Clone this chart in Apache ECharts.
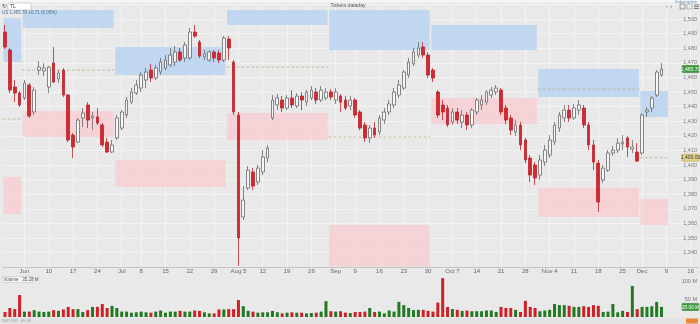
<!DOCTYPE html>
<html><head><meta charset="utf-8">
<script src="https://cdn.jsdelivr.net/npm/echarts@6/dist/echarts.min.js"></script>
<style>html,body{margin:0;padding:0;background:#e9e9e9}#c{width:700px;height:324px}</style>
</head><body><div id="c"></div>
<script>
// ---------- DATA ----------
const firstDay = '2013-05-28';
const lastAxisDay = '2013-12-17';
const holidays = ['2013-07-04', '2013-09-02', '2013-11-28'];

const tickDates = ['2013-06-03','2013-06-10','2013-06-17','2013-06-24','2013-07-01','2013-07-08','2013-07-15','2013-07-22','2013-07-29','2013-08-05','2013-08-12','2013-08-19','2013-08-26','2013-09-03','2013-09-09','2013-09-16','2013-09-23','2013-09-30','2013-10-07','2013-10-14','2013-10-21','2013-10-28','2013-11-04','2013-11-11','2013-11-18','2013-11-25','2013-12-02','2013-12-09','2013-12-16'];
const tickLabels = ['Jun','10','17','24','Jul','8','15','22','29','Aug 5','12','19','26','Sep','9','16','23','30','Oct 7','14','21','28','Nov 4','11','18','25','Dec','9','16'];

// [open, close, low, high]
const ohlc = [
[1491.1,1480.8,1479.4,1495.9],[1478.7,1451.3,1449.3,1480.1],[1453.4,1449.3,1443.1,1458.2],[1449.3,1441.1,1439.7,1450.7],
[1445.9,1456.1,1444.5,1458.2],[1454.8,1433.5,1432.2,1456.1],[1436.3,1451.3,1434.2,1453.4],[1465.0,1467.1,1461.6,1471.2],
[1464.4,1466.4,1460.9,1469.8],[1453.4,1467.1,1449.3,1467.8],[1469.8,1456.8,1456.1,1480.8],[1458.9,1463.0,1456.1,1465.0],
[1465.0,1447.9,1446.6,1466.4],[1447.9,1417.1,1415.7,1448.6],[1420.5,1412.3,1404.8,1421.9],[1415.7,1430.8,1415.0,1432.2],
[1432.2,1435.6,1426.0,1439.0],[1441.1,1430.8,1425.3,1443.1],[1432.2,1433.5,1423.9,1436.3],[1432.9,1428.7,1427.4,1439.0],
[1427.4,1413.7,1412.3,1428.7],[1415.7,1408.9,1408.2,1418.5],[1408.9,1413.7,1408.2,1417.1],[1418.5,1432.2,1417.1,1434.2],
[1425.3,1436.3,1423.9,1437.6],[1434.2,1444.5,1432.2,1446.6],[1443.1,1450.0,1441.8,1452.7],[1449.3,1454.8,1447.9,1458.2],
[1452.7,1461.6,1450.0,1463.7],[1458.2,1463.7,1452.7,1466.4],[1465.0,1459.6,1456.8,1469.2],[1459.6,1466.4,1458.2,1468.5],
[1463.7,1470.5,1461.6,1473.3],[1466.4,1471.9,1465.0,1475.3],[1468.5,1475.3,1467.1,1480.1],[1470.5,1477.4,1467.8,1481.5],
[1477.4,1471.9,1470.5,1480.1],[1473.3,1482.2,1470.5,1484.2],[1473.3,1491.1,1471.9,1493.8],[1491.1,1488.3,1487.0,1495.9],
[1484.2,1474.6,1473.3,1485.6],[1474.0,1476.0,1471.9,1478.7],[1471.9,1477.4,1470.5,1478.7],[1477.4,1473.3,1470.5,1478.7],
[1476.7,1471.9,1469.8,1478.7],[1471.9,1487.0,1470.5,1488.3],
[1486.3,1480.1,1471.9,1488.3],[1470.5,1436.3,1434.2,1471.9],[1434.2,1350.0,1331.0,1436.3],[1364.4,1376.0,1362.3,1385.6],
[1384.2,1396.5,1382.8,1399.3],[1395.2,1385.6,1382.8,1397.9],[1388.3,1397.9,1386.3,1400.0],[1395.2,1405.5,1393.1,1410.2],
[1404.8,1411.6,1402.0,1413.7],[1432.2,1444.5,1430.8,1447.9],[1441.1,1445.9,1437.6,1448.6],[1444.5,1439.0,1436.3,1447.2],
[1439.0,1445.9,1437.6,1447.9],[1445.9,1441.1,1439.0,1451.3],[1440.4,1447.2,1439.0,1449.3],[1447.2,1444.5,1437.6,1450.0],
[1443.1,1450.0,1440.4,1451.3],[1445.9,1451.3,1444.5,1454.1],[1450.0,1444.5,1441.8,1452.7],[1444.5,1451.3,1443.1,1454.1],
[1445.9,1450.0,1444.5,1452.7],[1450.0,1446.6,1444.5,1452.0],
[1444.5,1450.0,1441.8,1452.7],[1447.2,1443.1,1436.3,1448.6],[1444.5,1439.0,1437.6,1447.2],[1440.4,1444.5,1437.6,1447.2],
[1444.5,1434.2,1432.2,1445.9],[1436.3,1425.3,1423.9,1437.6],[1427.4,1418.5,1415.7,1429.4],[1418.5,1425.3,1415.0,1427.4],
[1425.3,1420.5,1418.5,1429.4],[1422.6,1432.2,1420.5,1434.2],[1430.8,1436.3,1428.1,1439.0],[1436.3,1441.8,1434.2,1444.5],
[1441.1,1450.0,1439.0,1452.7],[1447.9,1454.8,1445.9,1458.2],[1452.7,1463.7,1451.3,1465.0],[1461.6,1470.5,1459.6,1473.3],
[1469.2,1477.4,1467.8,1480.1],[1475.3,1480.1,1473.3,1484.2],[1480.8,1475.3,1473.3,1484.2],[1475.3,1461.6,1459.6,1477.4],
[1465.0,1459.6,1456.8,1466.4],[1450.0,1434.2,1432.2,1451.3],[1441.1,1436.3,1430.8,1444.5],[1439.0,1427.4,1426.0,1441.1],
[1429.4,1436.3,1427.4,1439.0],[1436.3,1430.8,1428.1,1439.0],[1429.4,1434.2,1425.3,1437.6],[1434.2,1427.4,1423.9,1436.3],
[1427.4,1437.6,1425.3,1439.0],[1436.3,1444.5,1434.2,1445.9],[1441.1,1444.5,1437.6,1447.9],[1443.1,1450.0,1441.1,1451.3],
[1447.9,1451.3,1445.9,1453.4],[1450.0,1452.7,1447.9,1454.8],[1451.3,1436.3,1434.2,1452.7],[1439.0,1430.8,1428.1,1441.1],
[1432.2,1423.9,1420.5,1434.2],[1422.6,1427.4,1419.8,1430.8],[1427.4,1413.7,1410.2,1429.4],[1417.1,1403.4,1401.3,1418.5],
[1404.8,1393.1,1388.3,1406.8],[1400.0,1391.1,1386.3,1402.0],[1393.1,1403.4,1389.7,1406.8],
[1402.0,1410.2,1399.3,1413.7],[1406.8,1417.1,1404.8,1420.5],[1415.7,1427.4,1413.7,1429.4],[1425.3,1434.2,1422.6,1436.3],
[1432.2,1437.6,1429.4,1441.1],[1437.6,1432.2,1429.4,1441.1],[1432.2,1439.0,1430.8,1441.8],[1437.6,1441.1,1434.2,1444.5],
[1439.0,1427.4,1425.3,1441.1],[1427.4,1413.7,1410.2,1429.4],[1413.7,1402.0,1396.5,1417.1],[1401.3,1374.6,1367.8,1403.4],
[1389.7,1397.9,1387.6,1400.0],[1396.5,1408.2,1395.2,1410.2],[1408.2,1410.2,1406.1,1413.0],[1410.2,1415.0,1408.2,1418.5],
[1414.4,1415.7,1410.2,1420.5],[1418.5,1412.3,1405.5,1419.8],[1410.9,1412.3,1408.2,1417.1],[1408.9,1402.7,1402.0,1415.0],
[1408.2,1434.2,1406.8,1435.6],[1436.3,1437.6,1432.9,1439.7],[1439.0,1445.9,1436.3,1447.2],[1447.9,1463.7,1446.6,1465.0],
[1461.6,1465.7,1460.3,1469.8]
];

// volume, millions
const volumes = [
14,25,22,61,15,15,19,15,14,15,19,17,21,28,22,22,14,19,28,28,36,25,31,25,
15,15,12,13,15,13,12,15,18,12,15,15,17,15,15,18,17,13,10,10,21,21,
22,22,47,30,17,15,12,13,13,17,13,10,12,13,12,12,10,11,12,15,44,16,
15,16,12,11,14,14,15,25,14,15,10,18,15,42,33,25,19,20,20,17,
15,40,108,28,22,20,17,18,16,16,16,18,18,14,28,25,25,20,14,45,28,25,16,
18,20,36,33,33,31,28,28,30,28,33,31,14,15,36,13,17,14,86,22,
28,28,30,42,28
];

// zones: bar-index ranges, resistance (blue) and support (pink)
const zoneStart = [0, 4, 23, 46, 67, 88, 110, 131];
const zoneEnd   = [3, 22, 45, 66, 87, 109, 130, 136];
const resHigh = [1500.7, 1506.2, 1480.8, 1506.2, 1506.2, 1495.9, 1465.7, 1450.7];
const resLow  = [1470.5, 1493.8, 1461.6, 1495.9, 1478.7, 1478.7, 1446.6, 1432.9];
const supHigh = [1391.8, 1437.0, 1403.4, 1435.6, 1358.9, 1445.9, 1384.2, 1376.7];
const supLow  = [1366.4, 1419.2, 1384.9, 1417.1, 1330.5, 1428.1, 1364.4, 1358.9];

// dashed pivot lines
const pivotStart = [0, 4, 46, 67, 110, 131];
const pivotEnd   = [3, 22, 66, 87, 130, 136];
const pivotValue = [1431.5, 1465.0, 1467.1, 1419.2, 1452.0, 1405.0];

const lastPrice = 1465.7;
const pivotTag = 1405.0;
const lastVolume = 28;

// ---------- BUILD ----------
function buildDays(from, to, skip) {
  const out = [];
  const d = new Date(from + 'T00:00:00Z'), end = new Date(to + 'T00:00:00Z');
  while (d <= end) {
    const s = d.toISOString().slice(0, 10);
    const wd = d.getUTCDay();
    if (wd !== 0 && wd !== 6 && skip.indexOf(s) < 0) out.push(s);
    d.setUTCDate(d.getUTCDate() + 1);
  }
  return out;
}
const days = buildDays(firstDay, lastAxisDay, holidays);
const labelOf = {};
tickDates.forEach((d, k) => labelOf[d] = tickLabels[k]);
const isTick = (idx, val) => labelOf[val] !== undefined;

const fmt = v => v.toLocaleString('en-US', {minimumFractionDigits: 0, maximumFractionDigits: 0});
const FONT = '"Liberation Sans", Arial, sans-serif';

const BAND = 4.87;
const gridLeft = 5 - BAND / 2;
const gridWidth = days.length * BAND;

const zoneData = [];
zoneStart.forEach((s, k) => {
  zoneData.push([s, zoneEnd[k], resLow[k], resHigh[k], 0]);
  zoneData.push([s, zoneEnd[k], supLow[k], supHigh[k], 1]);
});
const pivotData = pivotStart.map((s, k) => [s, pivotEnd[k], pivotValue[k]]);

const chart = echarts.init(document.getElementById('c'), null, {renderer: 'canvas'});

function tag(colorFill, colorStroke, textColor, digits, suffix) {
  return function (params, api) {
    const v = api.value(1);
    const y = api.coord([0, v])[1];
    return {type: 'group', children: [
      {type: 'rect', shape: {x: 682, y: y - 3.5, width: 17, height: 7, r: 1}, style: {fill: colorFill, stroke: colorStroke, lineWidth: 0.6}},
      {type: 'text', style: {x: 690.5, y: y + 0.3, text: v.toLocaleString('en-US', {minimumFractionDigits: digits, maximumFractionDigits: digits}) + suffix, fill: textColor, font: '5px ' + FONT, align: 'center', verticalAlign: 'middle'}}
    ]};
  };
}

const option = {
  backgroundColor: '#e9e9e9',
  animation: false,
  grid: [
    {left: gridLeft, width: gridWidth, top: 4.4, height: 262.8, containLabel: false},
    {left: gridLeft, width: gridWidth, top: 273.8, height: 43.2, containLabel: false}
  ],
  xAxis: [
    {type: 'category', data: days, gridIndex: 0, boundaryGap: true,
     axisLine: {show: true, lineStyle: {color: '#c4c4c4'}},
     axisTick: {show: false, alignWithLabel: true, interval: isTick},
     splitLine: {show: true, alignWithLabel: true, interval: isTick, lineStyle: {color: '#f3f3f3', width: 1}},
     axisLabel: {interval: isTick, formatter: v => labelOf[v] || '', fontSize: 6, color: '#666', margin: 1.5, fontFamily: FONT}},
    {type: 'category', data: days, gridIndex: 1, boundaryGap: true,
     axisLine: {show: false}, axisTick: {show: false}, axisLabel: {show: false}, splitLine: {show: false}}
  ],
  yAxis: [
    {type: 'value', gridIndex: 0, position: 'right', min: 1330, max: 1510, interval: 10, scale: true,
     axisLine: {show: false}, axisTick: {show: false},
     splitLine: {show: true, lineStyle: {color: '#f3f3f3', width: 1}},
     axisLabel: {inside: true, margin: 1, fontSize: 5.5, color: '#777', fontFamily: FONT, showMinLabel: false, showMaxLabel: false, formatter: v => fmt(v)}},
    {type: 'value', gridIndex: 1, position: 'right', min: 0, max: 120, interval: 50,
     axisLine: {show: false}, axisTick: {show: false}, splitLine: {show: false},
     axisLabel: {inside: true, margin: 1, fontSize: 5.5, color: '#777', fontFamily: FONT, showMinLabel: false, showMaxLabel: false, formatter: v => v + ' M'}}
  ],
  series: [
    {type: 'custom', name: 'zones', xAxisIndex: 0, yAxisIndex: 0, z: 1, silent: true,
     encode: {x: [0, 1], y: [2, 3]}, data: zoneData,
     renderItem: function (params, api) {
       const s = api.value(0), e = api.value(1), lo = api.value(2), hi = api.value(3), kind = api.value(4);
       const a = api.coord([s, hi]), b = api.coord([e, lo]);
       const bw = api.size([1, 0])[0];
       return {type: 'rect', shape: {x: a[0] - bw / 2 + 0.8, y: a[1], width: b[0] - a[0] + bw - 1.6, height: b[1] - a[1]},
               style: {fill: kind ? 'rgba(246,206,210,0.85)' : 'rgba(184,211,240,0.85)'}};
     }},
    {type: 'custom', name: 'pivots', xAxisIndex: 0, yAxisIndex: 0, z: 2, silent: true,
     encode: {x: [0, 1], y: 2}, data: pivotData,
     renderItem: function (params, api) {
       const s = api.value(0), e = api.value(1), v = api.value(2);
       const a = api.coord([s, v]), b = api.coord([e, v]);
       const bw = api.size([1, 0])[0];
       return {type: 'line', shape: {x1: a[0] - bw / 2, y1: a[1], x2: b[0] + bw / 2, y2: b[1]},
               style: {stroke: '#b7b28a', lineWidth: 0.8, lineDash: [3, 2]}};
     }},
    {type: 'candlestick', name: 'price', xAxisIndex: 0, yAxisIndex: 0, z: 3, data: ohlc, barWidth: 3.2,
     itemStyle: {color: '#f6f6f6', color0: '#d22a30', borderColor: '#6a6a6a', borderColor0: '#c0222a', borderWidth: 0.8}},
    {type: 'custom', name: 'lastTag', xAxisIndex: 0, yAxisIndex: 0, z: 6, silent: true,
     encode: {x: 0, y: 1}, data: [[0, lastPrice]], renderItem: tag('#3f9b3f', '#2d7a2d', '#ffffff', 2, '')},
    {type: 'custom', name: 'pivotTag', xAxisIndex: 0, yAxisIndex: 0, z: 6, silent: true,
     encode: {x: 0, y: 1}, data: [[0, pivotTag]], renderItem: tag('#e7d48a', '#b9a34f', '#333', 2, '')},
    {type: 'bar', name: 'volume', xAxisIndex: 1, yAxisIndex: 1, data: volumes, barWidth: 3,
     itemStyle: {color: p => (ohlc[p.dataIndex][1] >= ohlc[p.dataIndex][0] ? '#1f7a21' : '#cf2027')}},
    {type: 'custom', name: 'volTag', xAxisIndex: 1, yAxisIndex: 1, z: 6, silent: true,
     encode: {x: 0, y: 1}, data: [[0, lastVolume]], renderItem: tag('#3f9b3f', '#2d7a2d', '#ffffff', 2, ' M')}
  ],
  graphic: [
    {type: 'rect', z: 100, shape: {x: 0, y: 0, width: 700, height: 2.5}, style: {fill: '#f6f6f6'}},
    {type: 'text', z: 101, style: {x: 2, y: 6.5, text: '\u21bb', fill: '#555', font: '6px ' + FONT, verticalAlign: 'middle'}},
    {type: 'rect', z: 100, shape: {x: 8, y: 3, width: 23, height: 7}, style: {fill: '#ffffff', stroke: '#b8b8b8', lineWidth: 0.6}},
    {type: 'text', z: 101, style: {x: 10, y: 6.6, text: 'TL', fill: '#333', font: '5px ' + FONT, verticalAlign: 'middle'}},
    {type: 'text', z: 101, style: {x: 348, y: 5.5, text: 'Tickets dataday', fill: '#555', font: '5px ' + FONT, align: 'center', verticalAlign: 'middle'}},
    {type: 'text', z: 101, style: {x: 2, y: 12.5, text: 'US 1,465.70 +0.71 (0.05%)', fill: '#4a6f94', font: '4.5px ' + FONT, verticalAlign: 'middle'}},
    {type: 'text', z: 101, style: {x: 686, y: 1.5, text: 'Subscription', fill: '#6a8fc0', font: '4px ' + FONT, align: 'center', verticalAlign: 'middle'}},
    {type: 'text', z: 101, style: {x: 666, y: 7, text: '\u2039  \u203a', fill: '#666', font: '5px ' + FONT, verticalAlign: 'middle'}},
    {type: 'rect', z: 100, shape: {x: 680, y: 4, width: 5, height: 5}, style: {fill: 'none', stroke: '#666', lineWidth: 0.6}},
    {type: 'rect', z: 100, shape: {x: 687, y: 4, width: 5, height: 5}, style: {fill: 'none', stroke: '#888', lineWidth: 0.5}},
    {type: 'rect', z: 100, shape: {x: 694, y: 4.5, width: 5, height: 0.8}, style: {fill: '#666'}},
    {type: 'rect', z: 100, shape: {x: 694, y: 6.3, width: 5, height: 0.8}, style: {fill: '#666'}},
    {type: 'rect', z: 100, shape: {x: 694, y: 8.1, width: 5, height: 0.8}, style: {fill: '#666'}},
    {type: 'rect', z: 100, shape: {x: 2, y: 276.5, width: 31, height: 6}, style: {fill: '#f4f4f4', stroke: '#bdbdbd', lineWidth: 0.5}},
    {type: 'text', z: 101, style: {x: 3.5, y: 279.6, text: 'Volume   35.28 M', fill: '#555', font: '4.5px ' + FONT, verticalAlign: 'middle'}},
    {type: 'rect', z: 100, shape: {x: 0, y: 318, width: 700, height: 6}, style: {fill: '#e3e3e3'}},
    {type: 'text', z: 101, style: {x: 2, y: 321, text: 'S&P 500   09:30', fill: '#999', font: '4px ' + FONT, verticalAlign: 'middle'}},
    {type: 'rect', z: 100, shape: {x: 686, y: 318.5, width: 12, height: 5}, style: {fill: '#e8893a'}}
  ]
};
chart.setOption(option);
</script>
</body></html>
